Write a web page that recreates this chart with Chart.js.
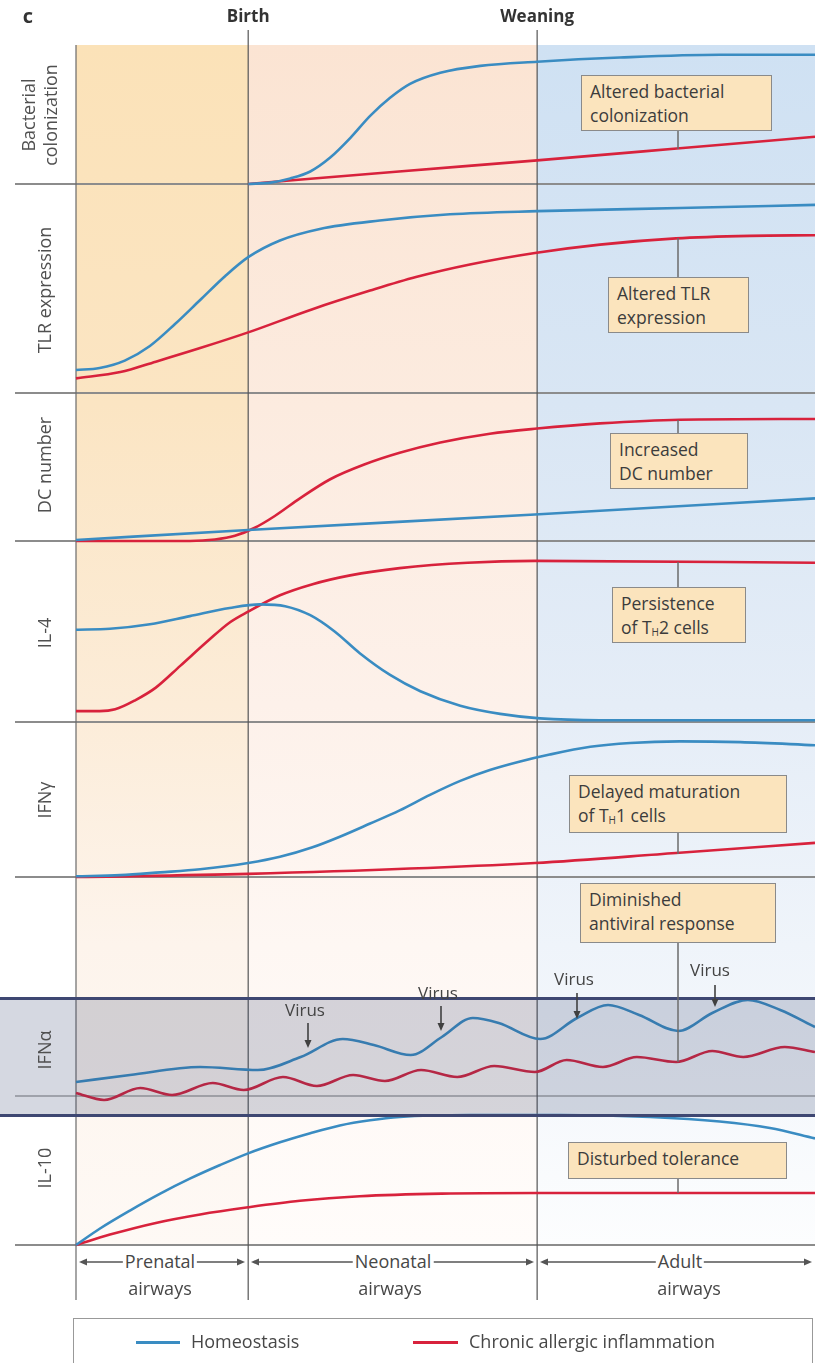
<!DOCTYPE html>
<html>
<head>
<meta charset="utf-8">
<title>Airway immune development</title>
<script src="https://cdn.jsdelivr.net/npm/chart.js@4.4.0/dist/chart.umd.min.js"></script>
<style>
  body { margin: 0; background: #fff; }
  #fig { position: relative; width: 815px; height: 1363px; overflow: hidden;
         font-family: "Open Sans", sans-serif; color: #474747; }
  .bg, .wrap, .note, .lab, .txt { position: absolute; }
  .wrap canvas { display: block; }
  .note { background: #fbe4bd; border: 1.5px solid #8a8a8a; font-size: 17.5px;
          line-height: 24px; padding: 3px 8px; box-sizing: border-box; color: #3c3c3c; white-space: nowrap; }
  .lab { transform: translate(-50%, -50%) rotate(-90deg); font-size: 18px; line-height: 22px;
         text-align: center; white-space: nowrap; color: #505050; }
  .txt { font-size: 18px; white-space: nowrap; transform: translateX(-50%); }
  sub { font-size: 10px; vertical-align: -2px; }
  svg { position: absolute; left: 0; top: 0; }
</style>
</head>
<body>
<div id="fig">
  <div class="bg" style="left:76px;top:45px;width:172px;height:1200px;background:linear-gradient(#fbe2b8 0%,#fbe5c3 30%,#fcecd8 55%,#fdf4ec 75%,#fef9f5 100%)"></div>
  <div class="bg" style="left:248px;top:45px;width:289px;height:1200px;background:linear-gradient(#fbe4d3 0%,#fcebdf 30%,#fdf1ea 55%,#fef7f3 75%,#fffcfa 100%)"></div>
  <div class="bg" style="left:537px;top:45px;width:278px;height:1200px;background:linear-gradient(#cfe1f3 0%,#d9e6f4 30%,#e5edf7 55%,#eff4fa 75%,#fcfdfe 100%)"></div>
  <svg id="under" width="815" height="1363"></svg>
  <div id="charts"></div>
  <div class="bg" style="left:-3px;top:997px;width:821px;height:120px;box-sizing:border-box;border:3px solid #3e4772;background:rgba(45,60,105,0.2)"></div>
  <svg id="over" width="815" height="1363"></svg>
  <div id="labels"></div>
</div>
<script>
// time axis: 0 = start of prenatal period, 100 = right edge
const birth = 23.3;
const weaning = 62.4;

// Bacterial colonization
const bactBlueX = [23.3, 26.3, 29.0, 31.7, 34.4, 37.1, 39.8, 42.5, 45.2, 49.3, 54.7, 62.4, 73.6, 87.1, 100];
const bactBlue  = [0, 0.01, 0.04, 0.09, 0.19, 0.33, 0.49, 0.62, 0.72, 0.80, 0.85, 0.88, 0.91, 0.93, 0.93];
const bactRedX  = [23.3, 43.7, 62.4, 81.3, 100];
const bactRed   = [0, 0.09, 0.17, 0.255, 0.34];

// TLR expression
const tlrBlueX = [0, 3.2, 6.6, 10.0, 13.4, 16.8, 20.2, 23.3, 27.6, 33.0, 41.1, 50.6, 62.4, 81.7, 100];
const tlrBlue  = [0.11, 0.12, 0.155, 0.225, 0.33, 0.445, 0.56, 0.65, 0.73, 0.785, 0.825, 0.855, 0.87, 0.885, 0.90];
const tlrRedX  = [0, 6.0, 10.8, 16.8, 23.3, 31.9, 39.8, 46.0, 53.3, 62.1, 70.9, 81.2, 91.2, 100];
const tlrRed   = [0.07, 0.10, 0.15, 0.215, 0.29, 0.40, 0.49, 0.555, 0.615, 0.67, 0.71, 0.74, 0.752, 0.755];

// DC number
const dcRedX  = [0, 15.4, 18.8, 21.5, 24.2, 26.9, 30.3, 34.4, 39.0, 43.8, 49.3, 56.0, 62.4, 70.9, 81.7, 100];
const dcRed   = [0, 0, 0.01, 0.035, 0.09, 0.17, 0.29, 0.42, 0.52, 0.60, 0.67, 0.73, 0.765, 0.80, 0.825, 0.83];
const dcBlueX = [0, 23.3, 62.1, 100];
const dcBlue  = [0.007, 0.075, 0.18, 0.29];

// IL-4
const il4RedX  = [0, 3.2, 5.3, 8.0, 10.8, 14.1, 17.9, 20.8, 23.3, 27.6, 31.9, 37.1, 43.8, 53.0, 62.1, 100];
const il4Red   = [0.06, 0.06, 0.07, 0.12, 0.19, 0.31, 0.45, 0.55, 0.61, 0.70, 0.76, 0.81, 0.85, 0.88, 0.89, 0.88];
const il4BlueX = [0, 4.6, 10.0, 15.4, 20.8, 24.9, 28.3, 31.7, 35.0, 38.4, 42.5, 46.6, 52.0, 57.4, 62.8, 70.9, 100];
const il4Blue  = [0.51, 0.515, 0.54, 0.585, 0.63, 0.65, 0.64, 0.59, 0.50, 0.38, 0.26, 0.17, 0.09, 0.045, 0.02, 0.01, 0.01];

// IFNγ
const ifngBlueX = [0, 6.0, 11.4, 16.8, 23.3, 27.6, 31.9, 35.7, 39.8, 43.8, 47.9, 52.0, 56.0, 60.1, 64.1, 69.6, 75.0, 81.7, 89.9, 100];
const ifngBlue  = [0.005, 0.012, 0.03, 0.05, 0.09, 0.13, 0.19, 0.26, 0.345, 0.43, 0.53, 0.62, 0.69, 0.745, 0.79, 0.84, 0.865, 0.875, 0.87, 0.85];
const ifngRedX  = [0, 23.3, 62.1, 81.2, 100];
const ifngRed   = [0, 0.02, 0.09, 0.155, 0.22];

// IFNα (virus peaks)
const ifnaBlueX = [0, 7.3, 16.8, 24.6, 30.4, 36.1, 40.3, 45.3, 49.5, 53.7, 57.2, 62.8, 67.8, 72.0, 76.2, 81.5, 86.1, 90.9, 95.3, 100];
const ifnaBlue  = [0.14, 0.21, 0.29, 0.26, 0.39, 0.57, 0.51, 0.41, 0.59, 0.78, 0.73, 0.57, 0.78, 0.91, 0.81, 0.65, 0.83, 0.96, 0.86, 0.69];
const ifnaRedX  = [0, 3.8, 8.7, 13.0, 18.5, 22.7, 28.0, 32.6, 37.5, 41.8, 46.7, 51.6, 56.6, 62.1, 66.4, 71.3, 75.9, 81.2, 86.1, 90.3, 95.9, 100];
const ifnaRed   = [0.03, -0.04, 0.08, 0.01, 0.13, 0.06, 0.19, 0.10, 0.21, 0.15, 0.26, 0.19, 0.30, 0.24, 0.36, 0.29, 0.39, 0.34, 0.45, 0.39, 0.49, 0.44];

// IL-10
const il10BlueX = [0, 3.2, 7.3, 11.4, 15.4, 19.5, 23.3, 27.6, 31.7, 35.7, 39.8, 43.8, 53.3, 65.5, 77.7, 87.1, 93.9, 100];
const il10Blue  = [0, 0.125, 0.265, 0.395, 0.51, 0.615, 0.705, 0.79, 0.86, 0.92, 0.96, 0.985, 1.0, 1.0, 0.985, 0.95, 0.90, 0.82];
const il10RedX  = [0, 4.6, 10.8, 16.8, 23.3, 30.3, 38.4, 49.5, 62.4, 100];
const il10Red   = [0, 0.08, 0.17, 0.235, 0.29, 0.34, 0.375, 0.395, 0.40, 0.40];

const seriesNames = ['Homeostasis', 'Chronic allergic inflammation'];
const BLUE = '#3a8cc2', RED = '#d8223c';

// panel placement: base = pixel of value 0, unit = pixels per 1.0
const panels = [
  { name: 'Bacterial<br>colonization', base: 184, unit: 139, bx: bactBlueX, b: bactBlue, rx: bactRedX, r: bactRed },
  { name: 'TLR expression', base: 393, unit: 209, bx: tlrBlueX, b: tlrBlue, rx: tlrRedX, r: tlrRed },
  { name: 'DC number', base: 541, unit: 147, bx: dcBlueX, b: dcBlue, rx: dcRedX, r: dcRed },
  { name: 'IL-4', base: 722, unit: 181, bx: il4BlueX, b: il4Blue, rx: il4RedX, r: il4Red },
  { name: 'IFN\u03b3', base: 877, unit: 155, bx: ifngBlueX, b: ifngBlue, rx: ifngRedX, r: ifngRed },
  { name: 'IFN\u03b1', base: 1096, unit: 100, bx: ifnaBlueX, b: ifnaBlue, rx: ifnaRedX, r: ifnaRed },
  { name: 'IL-10', base: 1245, unit: 130, bx: il10BlueX, b: il10Blue, rx: il10RedX, r: il10Red }
];
const labelY = [115, 290, 465, 633, 800, 1050, 1168];

const X0 = 76, X1 = 815, PAD = 6, VPAD = 10;
const xMin = -PAD * 100 / (X1 - X0);
const pts = (xs, ys) => xs.map((x, i) => ({ x: x, y: ys[i] }));

const chartsDiv = document.getElementById('charts');
panels.forEach(function (p) {
  const w = document.createElement('div');
  w.className = 'wrap';
  const h = p.unit + 2 * VPAD;
  w.style.cssText = `left:${X0 - PAD}px;top:${p.base - p.unit - VPAD}px;width:${X1 - X0 + PAD}px;height:${h}px`;
  const cv = document.createElement('canvas');
  w.appendChild(cv);
  chartsDiv.appendChild(w);
  new Chart(cv, {
    type: 'line',
    data: {
      datasets: [
        { label: seriesNames[0], data: pts(p.bx, p.b), borderColor: BLUE, borderWidth: 2.6 },
        { label: seriesNames[1], data: pts(p.rx, p.r), borderColor: RED, borderWidth: 2.6 }
      ]
    },
    options: {
      responsive: true, maintainAspectRatio: false, animation: false,
      layout: { padding: 0 },
      parsing: false,
      elements: { point: { radius: 0 }, line: { cubicInterpolationMode: 'monotone', fill: false } },
      datasets: { line: { clip: false } },
      scales: {
        x: { type: 'linear', min: xMin, max: 100, display: false },
        y: { type: 'linear', min: -VPAD / p.unit, max: (p.unit + VPAD) / p.unit, display: false }
      },
      plugins: { legend: { display: false }, tooltip: { enabled: false } },
      events: []
    }
  });
});

// guide lines
const px = t => X0 + t / 100 * (X1 - X0);
const NS = 'http://www.w3.org/2000/svg';
function line(svg, x1, y1, x2, y2, col, wd) {
  const l = document.createElementNS(NS, 'line');
  l.setAttribute('x1', x1); l.setAttribute('y1', y1); l.setAttribute('x2', x2); l.setAttribute('y2', y2);
  l.setAttribute('stroke', col); l.setAttribute('stroke-width', wd);
  svg.appendChild(l);
}
function head(svg, x, y, dir, col) {
  // small filled arrowhead pointing to (x,y); dir: 'l','r','d'
  const p = document.createElementNS(NS, 'polygon');
  let d;
  if (dir === 'r') d = `${x},${y} ${x - 8},${y - 3.5} ${x - 8},${y + 3.5}`;
  else if (dir === 'l') d = `${x},${y} ${x + 8},${y - 3.5} ${x + 8},${y + 3.5}`;
  else d = `${x},${y} ${x - 3.5},${y - 8} ${x + 3.5},${y - 8}`;
  p.setAttribute('points', d); p.setAttribute('fill', col);
  svg.appendChild(p);
}
const under = document.getElementById('under');
panels.forEach((p, i) => line(under, 15, p.base, 815, p.base, i === 5 ? '#7a7a7a' : '#8c8c8c', i === 5 ? 1.2 : 2));
line(under, X0, 45, X0, 1300, '#6a6a6a', 1.2);
line(under, px(birth), 30, px(birth), 1300, '#555', 1.2);
line(under, px(weaning), 30, px(weaning), 1300, '#555', 1.2);

const over = document.getElementById('over');
// connectors from notes to red lines
[[131, 149], [238, 277], [420, 433], [562, 587], [833, 854], [943, 1062], [1179, 1193]]
  .forEach(c => line(over, 678, c[0], 678, c[1], '#6b6b6b', 1.5));
// virus arrows
[[308, 1023, 1048], [441, 1006, 1031], [577, 993, 1019], [715, 985, 1007]].forEach(a => {
  line(over, a[0], a[1], a[0], a[2] - 6, '#404040', 1.6);
  head(over, a[0], a[2], 'd', '#404040');
});
// period arrows
[[79, 245], [251, 534], [540, 812]].forEach(a => {
  line(over, a[0] + 4, 1262, a[1] - 4, 1262, '#555', 1.4);
  head(over, a[0], 1262, 'l', '#555');
  head(over, a[1], 1262, 'r', '#555');
});

// text
const labels = document.getElementById('labels');
function add(cls, html, css) {
  const d = document.createElement('div');
  d.className = cls; d.innerHTML = html; d.style.cssText = css;
  labels.appendChild(d);
  return d;
}
panels.forEach((p, i) => add('lab', p.name, `left:${i === 0 ? 39 : 44}px;top:${labelY[i]}px`));

add('txt', '<b>c</b>', 'left:28px;top:2px;font-size:20px;color:#333');
add('txt', '<b>Birth</b>', `left:${px(birth)}px;top:4px;font-size:17px;color:#333`);
add('txt', '<b>Weaning</b>', `left:${px(weaning)}px;top:4px;font-size:17px;color:#333`);

const notes = [
  ['Altered bacterial<br>colonization', 581, 75, 191, 56],
  ['Altered TLR<br>expression', 608, 277, 141, 56],
  ['Increased<br>DC number', 610, 433, 138, 56],
  ['Persistence<br>of T<sub>H</sub>2 cells', 612, 587, 134, 56],
  ['Delayed maturation<br>of T<sub>H</sub>1 cells', 569, 775, 218, 58],
  ['Diminished<br>antiviral response', 580, 883, 196, 60],
  ['Disturbed tolerance', 568, 1142, 219, 37]
];
notes.forEach(n => add('note', n[0], `left:${n[1]}px;top:${n[2]}px;width:${n[3]}px;height:${n[4]}px`));

[['Virus', 305, 998], ['Virus', 438, 981], ['Virus', 574, 967], ['Virus', 710, 958]]
  .forEach(v => add('txt', v[0], `left:${v[1]}px;top:${v[2]}px;font-size:17px;color:#444`));

[['Prenatal', 160], ['Neonatal', 393], ['Adult', 680]].forEach(s => {
  add('txt', s[0], `left:${s[1]}px;top:1249px;background:#fff;padding:0 2px;line-height:24px`);
});
[['airways', 160], ['airways', 390], ['airways', 689]].forEach(s => {
  add('txt', s[0], `left:${s[1]}px;top:1276px;line-height:24px`);
});

// legend
add('bg', '', 'left:73px;top:1318px;width:740px;height:70px;border:1.5px solid #999;box-sizing:border-box');
add('bg', '', `left:136px;top:1341px;width:44px;height:2.5px;background:${BLUE}`);
add('bg', '', `left:413px;top:1341px;width:45px;height:2.5px;background:${RED}`);
add('bg', seriesNames[0], 'left:191px;top:1329px;font-size:18px;line-height:24px');
add('bg', seriesNames[1], 'left:469px;top:1329px;font-size:18px;line-height:24px');
</script>
</body>
</html>
